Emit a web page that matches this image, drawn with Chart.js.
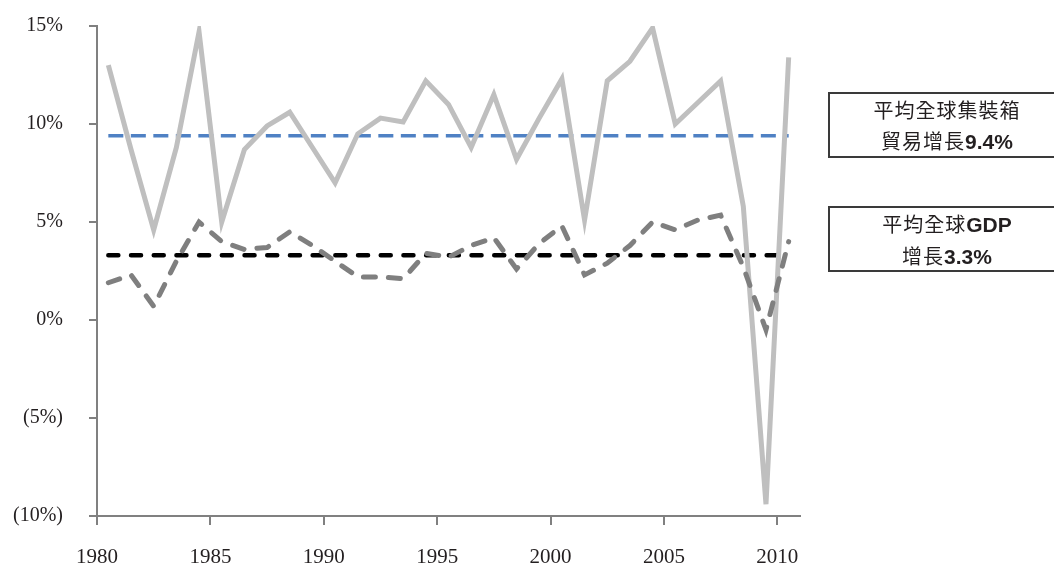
<!DOCTYPE html>
<html lang="zh-Hant">
<head>
<meta charset="utf-8">
<title>全球集裝箱貿易增長與GDP增長</title>
<script src="https://cdn.jsdelivr.net/npm/chart.js@4/dist/chart.umd.min.js"></script>
<style>
  html, body { margin: 0; padding: 0; background: #fff; }
  #wrap { position: relative; width: 1054px; height: 568px; overflow: hidden; }
  .note {
    position: absolute;
    left: 828px;
    width: 234px;
    height: 62px;
    border: 2px solid #3a3a3a;
    color: #231f20;
    font-family: "Noto Sans CJK TC", "Noto Sans CJK SC", sans-serif;
    font-size: 20px;
    font-weight: 400;
    letter-spacing: 1px;
    line-height: 31px;
    text-align: center;
    box-sizing: content-box;
  }
  .note b { font-family: "Liberation Sans", Arial, sans-serif; font-weight: 700; letter-spacing: 0; font-size: 21px; }
</style>
</head>
<body>
<div id="wrap">
  <canvas id="chart"></canvas>
  <div class="note" style="top:92px;">平均全球集裝箱<br>貿易增長<b>9.4%</b></div>
  <div class="note" style="top:206px;">平均全球<b>GDP</b><br>增長<b>3.3%</b></div>
</div>
<script>
// ── 資料 ──────────────────────────────────────────────
const years = [1980, 1981, 1982, 1983, 1984, 1985, 1986, 1987, 1988, 1989,
               1990, 1991, 1992, 1993, 1994, 1995, 1996, 1997, 1998, 1999,
               2000, 2001, 2002, 2003, 2004, 2005, 2006, 2007, 2008, 2009, 2010];

// 全球集裝箱貿易增長 (%)
const tradeGrowth = [13.0, 8.7, 4.6, 8.8, 14.7, 5.0, 8.7, 9.9, 10.6, 8.8,
                     7.0, 9.5, 10.3, 10.1, 12.2, 11.0, 8.8, 11.5, 8.2, 10.3,
                     12.3, 5.1, 12.2, 13.2, 14.9, 10.0, 11.1, 12.2, 5.8, -9.4, 13.4];

// 全球GDP增長 (%)
const gdpGrowth = [1.9, 2.3, 0.7, 3.0, 5.0, 4.0, 3.6, 3.7, 4.5, 3.8,
                   3.0, 2.2, 2.2, 2.1, 3.4, 3.2, 3.8, 4.2, 2.6, 3.9,
                   4.8, 2.3, 2.9, 3.8, 5.0, 4.6, 5.1, 5.35, 2.7, -0.5, 4.0];

const avgTrade = 9.4;
const avgGdp = 3.3;

const xTicks = [1980, 1985, 1990, 1995, 2000, 2005, 2010];
const yTicks = [-10, -5, 0, 5, 10, 15];
const yTickLabels = ['(10%)', '(5%)', '0%', '5%', '10%', '15%'];

// 每年的點畫在該年區間中間
const toPoints = arr => arr.map((v, i) => ({ x: years[i] + 0.5, y: v }));
const avgLine = v => [
  { x: years[0] + 0.5, y: v },
  { x: years[years.length - 1] + 0.5, y: v }
];

const AXIS = '#808080';
const serif = '"Liberation Serif", "Times New Roman", serif';

new Chart(document.getElementById('chart'), {
  type: 'line',
  data: {
    datasets: [
      {
        label: '全球GDP增長',
        data: toPoints(gdpGrowth),
        borderColor: '#7f7f7f',
        borderWidth: 5,
        borderDash: [12, 13],
        borderCapStyle: 'round',
        pointRadius: 0,
        tension: 0,
        order: 1
      },
      {
        label: '全球集裝箱貿易增長',
        data: toPoints(tradeGrowth),
        borderColor: '#bfbfbf',
        borderWidth: 5,
        pointRadius: 0,
        tension: 0,
        order: 2
      },
      {
        label: '平均全球GDP增長',
        data: avgLine(avgGdp),
        borderColor: '#000000',
        borderWidth: 4.5,
        borderDash: [10, 12.7],
        borderCapStyle: 'round',
        pointRadius: 0,
        order: 3
      },
      {
        label: '平均全球集裝箱貿易增長',
        data: avgLine(avgTrade),
        borderColor: '#4f81c4',
        borderWidth: 3.5,
        borderDash: [15, 7.5],
        pointRadius: 0,
        order: 4
      }
    ]
  },
  options: {
    responsive: true,
    maintainAspectRatio: false,
    animation: false,
    layout: { padding: { top: 26, right: 254, bottom: 0, left: 0 } },
    plugins: {
      legend: { display: false },
      tooltip: { enabled: false }
    },
    scales: {
      x: {
        type: 'linear',
        min: 1980,
        max: 2011,
        afterBuildTicks: s => { s.ticks = xTicks.map(v => ({ value: v })); },
        afterFit: s => { s.height = 52; },
        ticks: {
          color: '#231f20',
          font: { family: serif, size: 21 },
          padding: 20,
          maxRotation: 0,
          callback: v => String(v)
        },
        grid: { drawOnChartArea: false, drawTicks: true, tickLength: 9, color: AXIS, lineWidth: 2 },
        border: { color: AXIS, width: 2 }
      },
      y: {
        min: -10,
        max: 15,
        afterBuildTicks: s => { s.ticks = yTicks.map(v => ({ value: v })); },
        // 標籤的 padding 不要撐大繪圖區上下邊界
        afterFit: s => { s.width = 97; s.paddingTop = 12; s.paddingBottom = 12; },
        ticks: {
          color: '#231f20',
          font: { family: serif, size: 20 },
          padding: 26,
          callback: v => yTickLabels[yTicks.indexOf(v)]
        },
        grid: { drawOnChartArea: false, drawTicks: true, tickLength: 8, color: AXIS, lineWidth: 2 },
        border: { color: AXIS, width: 2 }
      }
    }
  }
});
</script>
</body>
</html>
